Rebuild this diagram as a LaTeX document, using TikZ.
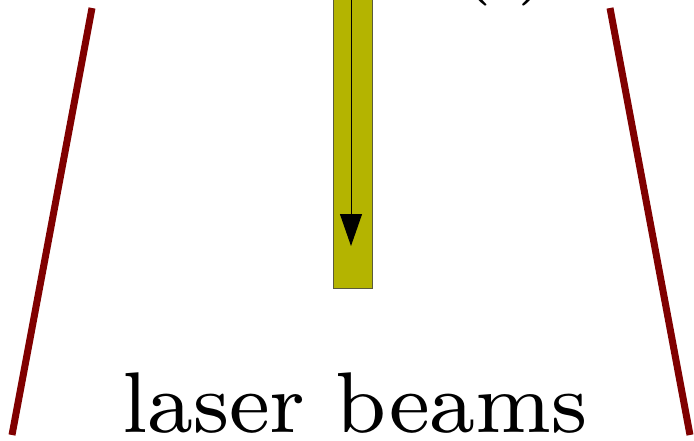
\documentclass[tikz,border=0pt]{standalone}
\usetikzlibrary{arrows.meta}
\definecolor{beamred}{RGB}{128,0,0}
\definecolor{beamfill}{RGB}{180,180,0}
\definecolor{beamedge}{RGB}{90,90,60}
\tikzset{
  mirror/.style={draw=beamred, line width=7pt},
  beambar/.style={draw=beamedge, line width=1pt, fill=beamfill, rectangle, inner sep=0pt},
  bigtext/.style={inner sep=0pt, anchor=base},
  flow/.style={draw=black, line width=1pt, -{Triangle[length=32pt,width=22pt]}}
}
\newlength\wordwd
\newcommand{\smallfont}{\fontsize{8}{10}\selectfont}
\AtBeginDocument{%
  \settowidth\wordwd{\smallfont laser beams}%
  \pgfmathsetmacro\wordscaletmp{466pt/\wordwd}%
  \global\let\wordscale\wordscaletmp}
\begin{document}
\begin{tikzpicture}[x=1pt,y=-1pt]
\useasboundingbox (0,0) rectangle (694,440);
\clip (0,0) rectangle (694,440);
\coordinate (l1) at (92,8);
\coordinate (l2) at (12,435);
\coordinate (r1) at (610,8);
\coordinate (r2) at (690,435);
\draw[mirror] (l1) -- (l2);
\draw[mirror] (r1) -- (r2);
\node[beambar, minimum width=39pt, minimum height=300pt, anchor=south] (bar) at (352.5,289) {};
\coordinate (a1) at (351,-5);
\coordinate (a2) at (351,246);
\draw[flow] (a1) -- (a2);
\node[bigtext] (lab) at (355,432) {\scalebox{\wordscale}{\smallfont laser beams}};
\node[bigtext] (tag) at (505,-16) {\scalebox{\wordscale}{\smallfont (i)}};
\end{tikzpicture}
\end{document}
